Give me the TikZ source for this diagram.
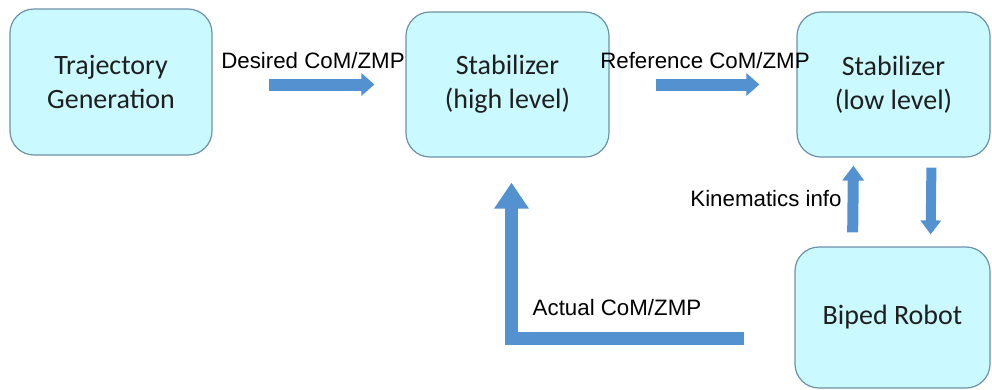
\documentclass[tikz,border=0pt]{standalone}
\usepackage{fontspec}
\setmainfont{Liberation Sans}
\newfontfamily\boxfont{Carlito}
\usetikzlibrary{arrows.meta}
\definecolor{boxfill}{RGB}{202,249,255}
\definecolor{boxline}{RGB}{110,145,170}
\definecolor{flow}{RGB}{84,145,208}
\begin{document}
\begin{tikzpicture}[x=1pt,y=-1pt,
	block/.style={draw=boxline,line width=1.2pt,fill=boxfill,rounded corners=24pt,inner sep=0pt,align=center,text=black!88,font=\boxfont\fontsize{28}{34}\selectfont},
	tag/.style={inner sep=0pt,font=\fontsize{22.3}{26}\selectfont},
	flowarrow/.style={draw=flow,line width=12pt,-{Triangle[width=22pt,length=13pt]}}]
\useasboundingbox (0,0) rectangle (992,389);
% blocks
\node[block,minimum width=202pt,minimum height=146pt] (traj) at (111,82) {Trajectory\\Generation};
\node[block,minimum width=203pt,minimum height=145pt] (high) at (507.5,84.5) {Stabilizer\\(high level)};
\node[block,minimum width=193pt,minimum height=145pt] (low) at (893.5,84.5) {Stabilizer\\(low level)};
\node[block,minimum width=195pt,minimum height=141pt] (biped) at (892.5,317.5) {Biped Robot};
% flows
\draw[flowarrow,shorten <=56pt,shorten >=31pt] (high.west -| traj.east) -- (high.west);
\draw[flowarrow,shorten <=46pt,shorten >=37pt] (high.east) -- (low.west);
\draw[flowarrow,line width=11pt,-{Triangle[width=21pt,length=15pt]},shorten <=14pt,shorten >=8pt] ([xshift=-40pt]biped.north) -- ([xshift=-40pt]low.south);
\draw[flowarrow,line width=10pt,-{Triangle[width=20pt,length=14pt]},shorten <=10pt,shorten >=12pt] ([xshift=38pt]low.south) -- ([xshift=38pt]biped.north);
\draw[flowarrow,line width=13pt,-{Triangle[width=33pt,length=26pt]},shorten <=50pt,shorten >=25pt] ([yshift=-21pt]biped.west) -- ([yshift=-21pt,xshift=4pt]biped.west -| high.south) -- ([xshift=4pt]high.south);
% labels
\node[tag] (desired) at (313,61) {Desired CoM/ZMP};
\node[tag] (reference) at (705,61) {Reference CoM/ZMP};
\node[tag] (kinematics) at (766,199) {Kinematics info};
\node[tag] (actual) at (617,308) {Actual CoM/ZMP};
\end{tikzpicture}
\end{document}
